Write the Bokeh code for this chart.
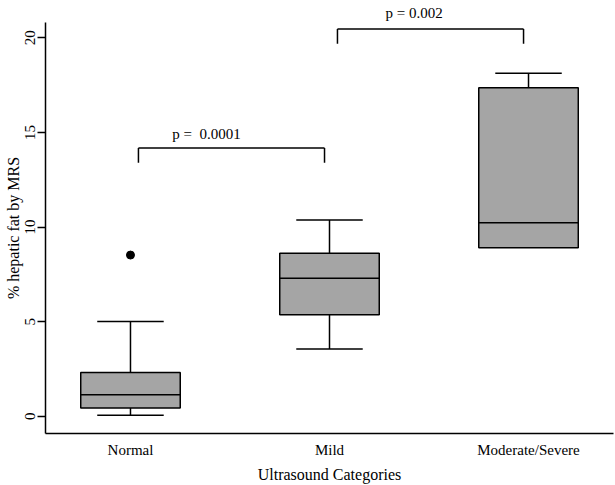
import numpy as np
from bokeh.plotting import figure
from bokeh.models import Range1d, FixedTicker, Label
from bokeh.embed import file_html
from bokeh.resources import INLINE

# ---------------- data ----------------
categories = ["Normal", "Mild", "Moderate/Severe"]
lower_whisker = [0.05, 3.55, 8.91]
q1 = [0.44, 5.36, 8.91]
median = [1.14, 7.30, 10.23]
q3 = [2.32, 8.61, 17.36]
upper_whisker = [5.01, 10.37, 18.13]
outlier_cat = ["Normal"]
outlier_val = [8.52]

y_ticks = [0, 5, 10, 15, 20]

comp_from = ["Normal", "Mild"]
comp_to = ["Mild", "Moderate/Severe"]
comp_y = [14.18, 20.47]
comp_text = ["p =\u00a0 0.0001", "p = 0.002"]

x_title = "Ultrasound Categories"
y_title = "% hepatic fat by MRS"

# ---------------- style ----------------
FONT = "Liberation Serif"
BOX_FILL = "#A5A5A5"
LW = 1.5
box_half = 0.25
cap_half = 0.167
leg_drop = 0.78
bracket_in_left = 0.04
bracket_in_right = 0.025
text_dx = [-25, -13]
title_half_width = 32

W, H = 615, 485
ML, MR, MT, MB = 45, 2, 22, 51

pos = {c: i + 1 for i, c in enumerate(categories)}
xs = np.array([pos[c] for c in categories], dtype=float)

x_start, x_end = 0.573, 3.427
y_start, y_end = -0.91, 20.81
ppu_x = (W - ML - MR) / (x_end - x_start)

p = figure(width=W, height=H, output_backend="svg", toolbar_location=None,
           x_range=Range1d(x_start, x_end), y_range=Range1d(y_start, y_end),
           min_border_left=ML, min_border_right=MR, min_border_top=MT, min_border_bottom=MB)
p.outline_line_color = None
p.grid.visible = False
p.background_fill_color = "white"
p.border_fill_color = "white"

# boxes
p.quad(left=xs - box_half, right=xs + box_half, bottom=q1, top=q3,
       fill_color=BOX_FILL, line_color="black", line_width=LW)
# medians
p.segment(x0=xs - box_half, x1=xs + box_half, y0=median, y1=median,
          line_color="black", line_width=LW)
# whiskers
p.segment(x0=xs, x1=xs, y0=q3, y1=upper_whisker, line_color="black", line_width=LW)
p.segment(x0=xs, x1=xs, y0=q1, y1=lower_whisker, line_color="black", line_width=LW)
# caps (only where a whisker exists)
p.segment(x0=xs - cap_half, x1=xs + cap_half, y0=upper_whisker, y1=upper_whisker,
          line_color="black", line_width=LW)
lw_mask = np.array(lower_whisker) < np.array(q1)
p.segment(x0=(xs - cap_half)[lw_mask], x1=(xs + cap_half)[lw_mask],
          y0=np.array(lower_whisker)[lw_mask], y1=np.array(lower_whisker)[lw_mask],
          line_color="black", line_width=LW)
# outliers
p.scatter(x=[pos[c] for c in outlier_cat], y=outlier_val, size=8,
          fill_color="black", line_color="black")

# comparison brackets
bl = np.array([pos[c] for c in comp_from], dtype=float) + bracket_in_left
br = np.array([pos[c] for c in comp_to], dtype=float) - bracket_in_right
cy = np.array(comp_y)
p.segment(x0=bl, x1=br, y0=cy, y1=cy, line_color="black", line_width=LW)
p.segment(x0=bl, x1=bl, y0=cy, y1=cy - leg_drop, line_color="black", line_width=LW)
p.segment(x0=br, x1=br, y0=cy, y1=cy - leg_drop, line_color="black", line_width=LW)

# first p-value inside the plot area
p.add_layout(Label(x=(bl[0] + br[0]) / 2, y=cy[0], text=comp_text[0], x_offset=text_dx[0], y_offset=14,
                   text_align="center", text_baseline="alphabetic",
                   text_font=FONT, text_font_size="15px", text_color="black"))
# second p-value sits above the plot area -> use the title slot
p.title.text = comp_text[1]
p.title.align = "left"
p.title.vertical_align = "top"
p.title.standoff = 0
p.title.offset = ((bl[1] + br[1]) / 2 - x_start) * ppu_x + text_dx[1] - title_half_width
p.title.text_font = FONT
p.title.text_font_size = "15px"
p.title.text_font_style = "normal"
p.title.text_color = "black"

# x axis
p.xaxis.ticker = FixedTicker(ticks=list(xs))
p.xaxis.major_label_overrides = {float(x): c for x, c in zip(xs, categories)}
p.xaxis.major_tick_line_color = None
p.xaxis.minor_tick_line_color = None
p.xaxis.major_label_standoff = 2
p.xaxis.axis_label = x_title
p.xaxis.axis_label_standoff = 5

# y axis
p.yaxis.ticker = FixedTicker(ticks=y_ticks)
p.yaxis.major_label_orientation = "vertical"
p.yaxis.major_tick_out = 8
p.yaxis.major_tick_in = 0
p.yaxis.minor_tick_line_color = None
p.yaxis.major_label_standoff = 2
p.yaxis.axis_label = y_title
p.yaxis.axis_label_standoff = 1

for ax in (p.xaxis, p.yaxis):
    ax.axis_line_color = "black"
    ax.axis_line_width = LW
    ax.major_tick_line_width = LW
    ax.major_label_text_font = FONT
    ax.major_label_text_font_size = "15px"
    ax.major_label_text_color = "black"
    ax.axis_label_text_font = FONT
    ax.axis_label_text_font_size = "16px"
    ax.axis_label_text_font_style = "normal"
    ax.axis_label_text_color = "black"

open("out.html", "w").write(file_html(p, INLINE))
